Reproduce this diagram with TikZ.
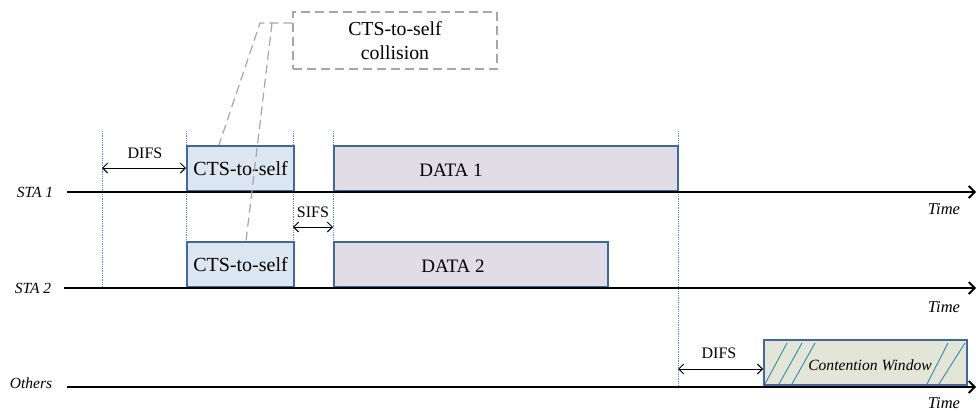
\documentclass[tikz,border=0pt]{standalone}
\usepackage{fontspec}
\setmainfont{Liberation Serif}
\usetikzlibrary{arrows.meta,calc}

\definecolor{boxedge}{HTML}{41689A}
\definecolor{ctsfill}{HTML}{DCE6F2}
\definecolor{datafill}{HTML}{E0DDE6}
\definecolor{cwfill}{HTML}{E3E6D6}
\definecolor{guide}{HTML}{5B8BD0}
\definecolor{leadgray}{HTML}{A6A6A6}

\tikzset{
  axis/.style={line width=2.6pt, -{Straight Barb[length=6pt,width=12pt,line width=1.8pt]}},
  frame/.style={draw=boxedge, line width=2pt, anchor=south west, inner sep=0pt},
  ctsbox/.style={frame, fill=ctsfill, minimum width=107, minimum height=45,
    font=\fontsize{20}{22}\selectfont},
  databox/.style={frame, fill=datafill, minimum height=45},
  cwbox/.style={frame, fill=cwfill, minimum width=203, minimum height=45},
  guideline/.style={draw=guide, densely dotted, line width=0.8pt},
  span/.style={line width=1pt, {Straight Barb[length=5pt,width=10pt]}-{Straight Barb[length=5pt,width=10pt]}},
  spanlabel/.style={font=\fontsize{16}{18}\selectfont},
  stalabel/.style={font=\fontsize{15.5}{17}\selectfont\itshape},
  timelabel/.style={font=\fontsize{16.5}{18}\selectfont\itshape},
  datalabel/.style={font=\fontsize{19}{21}\selectfont},
  leader/.style={draw=leadgray, dashed, dash pattern=on 9pt off 5pt, line width=1.2pt},
  hatch/.style={draw=boxedge!80!cyan, line width=0.9pt},
}

\begin{document}
\begin{tikzpicture}[x=1pt, y=-1pt]
  \useasboundingbox (0,0) rectangle (976,410);

  % station time axes
  \coordinate (s1a) at (67,192);  \coordinate (s1b) at (976,192);
  \coordinate (s2a) at (64,288);  \coordinate (s2b) at (976,288);
  \coordinate (oa)  at (67,387);  \coordinate (ob)  at (976,387);

  % dotted timing guides (drawn first, behind everything)
  \draw[guideline] (102,131) -- (102,288);
  \draw[guideline] (186,131) -- (186,242);
  \draw[guideline] (293,131) -- (293,242);
  \draw[guideline] (333,131) -- (333,242);
  \draw[guideline] (678,131) -- (678,385);

  % frames
  \node[ctsbox] (cts1) at (186,192) {CTS-to-self};
  \node[databox, minimum width=344] (data1) at (333,192) {};
  \node[ctsbox] (cts2) at (186,288) {CTS-to-self};
  \node[databox, minimum width=274] (data2) at (333,288) {};
  \node[cwbox] (cw) at (763,386) {};

  \node[datalabel] (d1txt) at (451,170) {DATA 1};
  \node[datalabel] (d2txt) at (453,266) {DATA 2};

  % contention window hatching
  \draw[hatch] (765,384) -- (787,343);
  \draw[hatch] (779,384) -- (802,343);
  \draw[hatch] (792,384) -- (815,343);
  \draw[hatch] (927,384) -- (948,343);
  \draw[hatch] (939,384) -- (965,343);
  \node[fill=cwfill, inner sep=1pt, font=\fontsize{15.6}{17}\selectfont\itshape] (cwtxt) at (870,365) {Contention Window};

  % axes
  \draw[axis] (s1a) -- (s1b);
  \draw[axis] (s2a) -- (s2b);
  \draw[axis] (oa) -- (ob);

  \node[stalabel] (l1) at (35,192) {STA 1};
  \node[stalabel] (l2) at (33,288) {STA 2};
  \node[stalabel] (l3) at (31,383) {Others};
  \node[timelabel] (t1) at (944,209) {Time};
  \node[timelabel] (t2) at (944,307) {Time};
  \node[timelabel] (t3) at (944,403) {Time};

  % interframe spaces
  \coordinate (difsA) at (102,168);
  \draw[span] (difsA) -- (difsA -| cts1.west);
  \node[spanlabel] (difs1) at (145,153) {DIFS};
  \coordinate (sifsA) at (293,227);
  \draw[span] (sifsA) -- (sifsA -| data2.west);
  \node[spanlabel] (sifs) at (313,212) {SIFS};
  \coordinate (difsB) at (678,369);
  \draw[span] (difsB) -- (difsB -| cw.west);
  \node[spanlabel] (difs2) at (719,353) {DIFS};

  % collision callout
  \node[draw=leadgray, dashed, dash pattern=on 9pt off 5pt, line width=1.2pt,
        minimum width=204, minimum height=57, align=center,
        font=\fontsize{19.8}{24}\selectfont] (callout) at (395,40.5)
        {CTS-to-self\\collision};
  \coordinate (k1) at (260,23);
  \coordinate (k2) at (272,23);
  \draw[leader] (callout.west |- k1) -- (k1) -- ($(cts1.north west)+(33,0)$);
  \draw[leader] (k2) -- ($(cts2.north west)+(60,0)$);
\end{tikzpicture}
\end{document}
